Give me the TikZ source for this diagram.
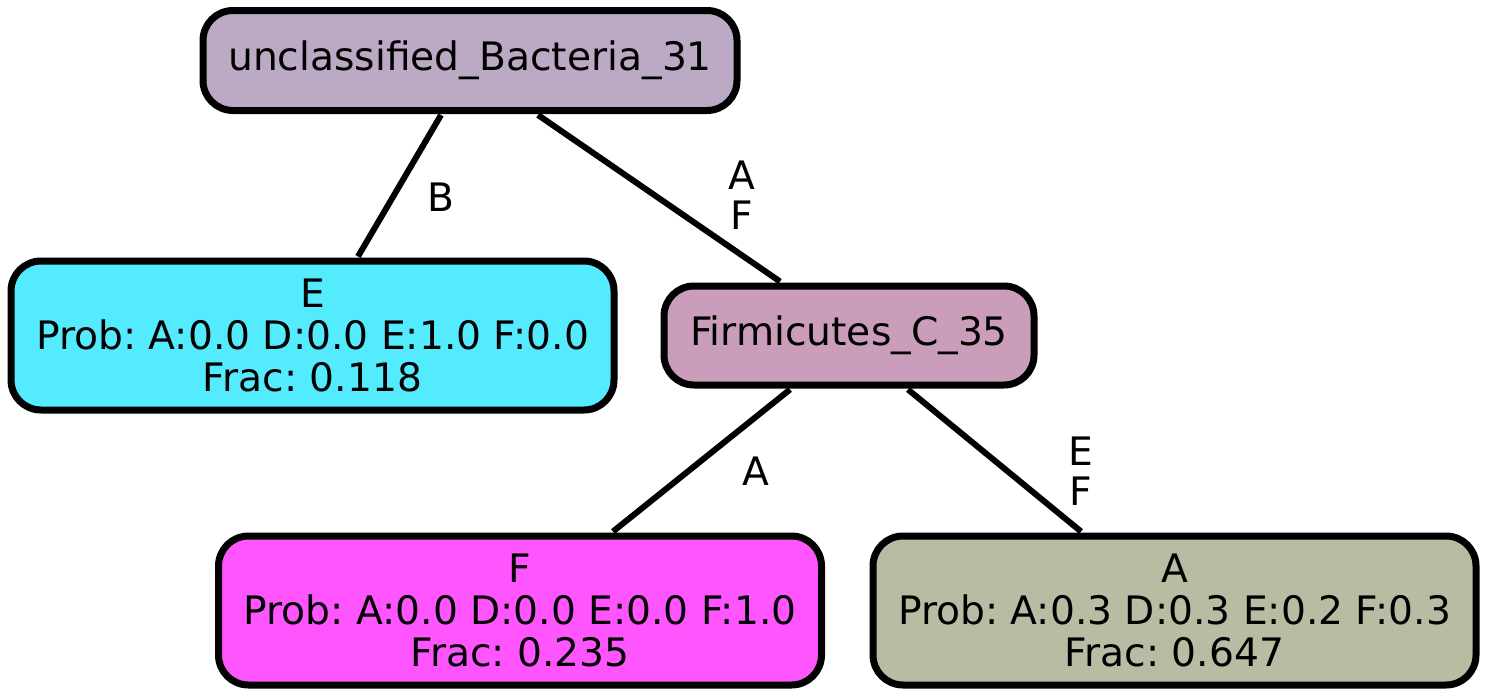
\documentclass[tikz,border=0pt]{standalone}
\usepackage{fontspec}
\setmainfont{DejaVu Sans}
\frenchspacing
\usetikzlibrary{calc}
\definecolor{cRoot}{HTML}{BCA9C4}
\definecolor{cE}{HTML}{55EBFF}
\definecolor{cFirm}{HTML}{CA9EBA}
\definecolor{cF}{HTML}{FF55FF}
\definecolor{cA}{HTML}{B7BCA2}
\begin{document}
\begin{tikzpicture}[x=0.5pt,y=-0.5pt,
  box/.style={draw=black,line width=3.5pt,rounded corners=15pt,inner sep=0pt,align=center,
    font=\fontsize{19.6pt}{21pt}\selectfont\frenchspacing},
  edge/.style={draw=black,line width=3pt},
  lab/.style={font=\fontsize{19.6pt}{20pt}\selectfont,align=center,inner sep=0pt}]
\useasboundingbox (0,0) rectangle (1486,696);
\node[box,fill=cRoot,minimum width=267pt,minimum height=50pt] (root) at (470,60.5) {unclassified\_Bacteria\_31};
\node[box,fill=cE,minimum width=301.5pt,minimum height=74.5pt] (E) at (312.5,335.5) {E\\Prob: A:0.0 D:0.0 E:1.0 F:0.0\\Frac: 0.118};
\node[box,fill=cFirm,minimum width=185pt,minimum height=49.5pt] (firm) at (849,335.5) {Firmicutes\_C\_35};
\node[box,fill=cF,minimum width=301.5pt,minimum height=74.5pt] (F) at (520,610.5) {F\\Prob: A:0.0 D:0.0 E:0.0 F:1.0\\Frac: 0.235};
\node[box,fill=cA,minimum width=301.5pt,minimum height=74.5pt] (A) at (1174.5,610.5) {A\\Prob: A:0.3 D:0.3 E:0.2 F:0.3\\Frac: 0.647};
\draw[edge] ($(root.south)+(-29,1)$) -- ($(E.north)+(45.5,-1)$);
\draw[edge] ($(root.south)+(68,1)$) -- ($(firm.north)+(-69,-1)$);
\draw[edge] ($(firm.south)+(-59,1)$) -- ($(F.north)+(93,-1)$);
\draw[edge] ($(firm.south)+(59,1)$) -- ($(A.north)+(-93.5,-1)$);
\node[lab] (lB) at (441,197) {B};
\node[lab] (lAF) at (742,195) {A\\F};
\node[lab] (lA) at (756,471) {A};
\node[lab] (lEF) at (1081,471) {E\\F};
\end{tikzpicture}
\end{document}
